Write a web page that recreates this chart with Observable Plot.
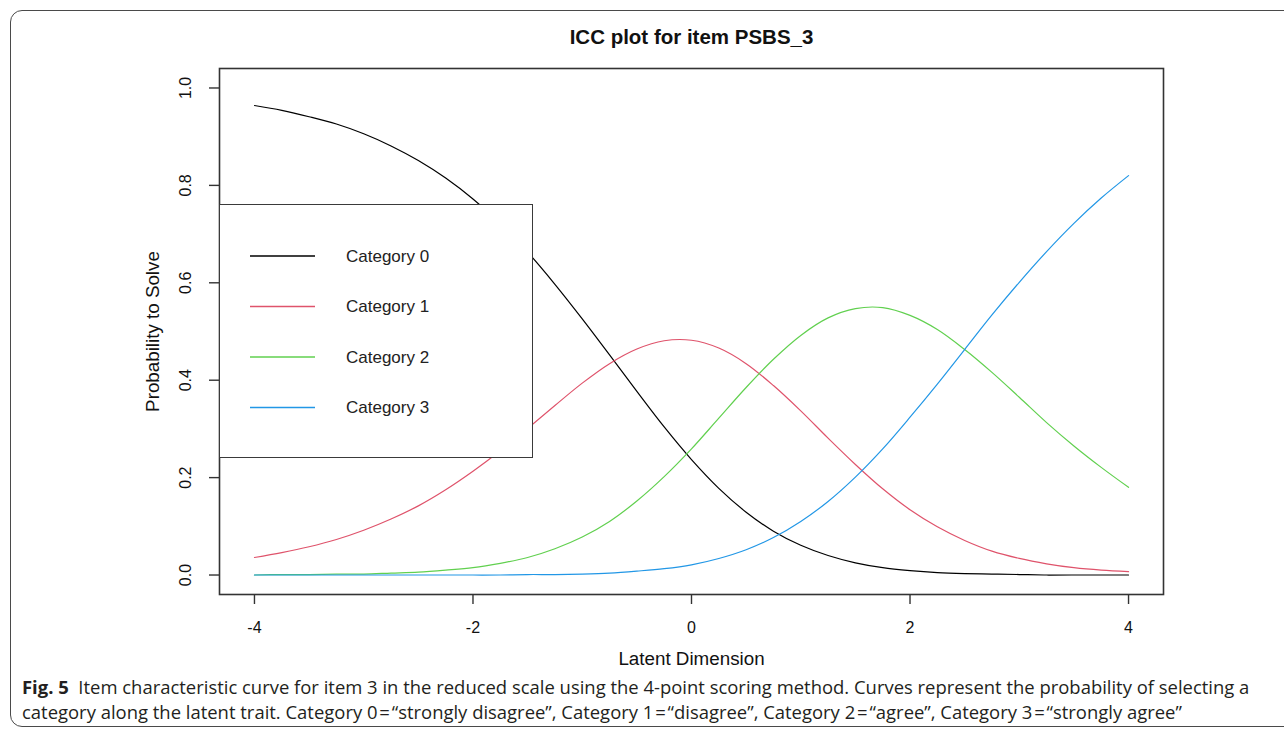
<!DOCTYPE html>
<html>
<head>
<meta charset="utf-8">
<script src="https://cdn.jsdelivr.net/npm/d3@7"></script>
<script src="https://cdn.jsdelivr.net/npm/@observablehq/plot@0.6"></script>
<style>
  html, body { margin: 0; padding: 0; background: #fff; }
  #wrap { position: relative; width: 1284px; height: 730px; overflow: hidden; background: #fff; }
  #chart { position: absolute; left: 0; top: 0; }
  #border { position: absolute; left: 10px; top: 10px; width: 1320px; height: 717px; border: 1.3px solid #4a4a4a; border-radius: 12px; box-sizing: border-box; background: transparent; pointer-events: none; z-index: 5; }
  #legend { position: absolute; left: 219px; top: 204px; width: 314px; height: 254px; box-sizing: border-box; border: 1.5px solid #3a3a3a; background: #fff; z-index: 2; }
  #legend svg { position: absolute; left: 0; top: 0; }
  #caption { position: absolute; left: 22px; top: 674px; font-family: "Open Sans", "Lato", sans-serif; font-size: 17.4px; line-height: 25px; color: #231f20; white-space: nowrap; z-index: 3; }
  #caption b { font-weight: 700; }
</style>
</head>
<body>
<div id="wrap">
  <div id="chart"></div>
  <div id="legend"></div>
  <div id="caption">
    <div id="cap1"><b>Fig. 5</b>&nbsp; Item characteristic curve for item 3 in the reduced scale using the 4-point scoring method. Curves represent the probability of selecting a</div>
    <div id="cap2">category along the latent trait. Category 0&#8202;=&#8202;“strongly disagree”, Category 1&#8202;=&#8202;“disagree”, Category 2&#8202;=&#8202;“agree”, Category 3&#8202;=&#8202;“strongly agree”</div>
  </div>
  <div id="border"></div>
</div>
<script>
// ---- Data ----
const theta = [-4, -3.75, -3.5, -3.25, -3, -2.75, -2.5, -2.25, -2, -1.75, -1.5, -1.25, -1, -0.75, -0.5, -0.25, 0,
               0.25, 0.5, 0.75, 1, 1.25, 1.5, 1.75, 2, 2.25, 2.5, 2.75, 3, 3.25, 3.5, 3.75, 4];
const cat0 = [0.964, 0.954, 0.941, 0.926, 0.906, 0.881, 0.851, 0.815, 0.772, 0.721, 0.663, 0.597, 0.526, 0.452, 0.377, 0.304, 0.237,
              0.178, 0.129, 0.090, 0.061, 0.040, 0.025, 0.015, 0.009, 0.005, 0.003, 0.002, 0.001, 0.000, 0.000, 0.000, 0.000];
const cat1 = [0.036, 0.046, 0.058, 0.073, 0.092, 0.115, 0.142, 0.175, 0.213, 0.255, 0.301, 0.348, 0.394, 0.434, 0.464, 0.481, 0.482,
              0.466, 0.434, 0.389, 0.337, 0.281, 0.227, 0.177, 0.134, 0.099, 0.071, 0.049, 0.034, 0.023, 0.015, 0.010, 0.007];
const cat2 = [0.000, 0.001, 0.001, 0.002, 0.002, 0.004, 0.006, 0.010, 0.015, 0.024, 0.036, 0.054, 0.078, 0.110, 0.152, 0.202, 0.259,
              0.322, 0.385, 0.443, 0.492, 0.528, 0.547, 0.549, 0.533, 0.504, 0.463, 0.416, 0.365, 0.313, 0.265, 0.221, 0.180];
const cat3 = [0.000, 0.000, 0.000, 0.000, 0.000, 0.000, 0.000, 0.000, 0.000, 0.000, 0.001, 0.001, 0.002, 0.004, 0.008, 0.013, 0.021,
              0.034, 0.052, 0.077, 0.110, 0.151, 0.201, 0.259, 0.324, 0.392, 0.463, 0.534, 0.601, 0.664, 0.722, 0.774, 0.820];
const categories = ["Category 0", "Category 1", "Category 2", "Category 3"];
const colors = ["#000000", "#DF536B", "#61D04F", "#2297E6"];
const xTicks = [-4, -2, 0, 2, 4];
const yTicks = [0, 0.2, 0.4, 0.6, 0.8, 1.0];
const title = "ICC plot for item PSBS_3";
const xLabel = "Latent Dimension";
const yLabel = "Probability to Solve";

// ---- Build long table ----
const series = [cat0, cat1, cat2, cat3];
const rows = [];
series.forEach((vals, i) => vals.forEach((v, j) => rows.push({theta: theta[j], p: v, cat: categories[i]})));

const W = 1284, H = 680;
const fontR = "Liberation Sans, Arial, sans-serif";

const plot = Plot.plot({
  width: W,
  height: H,
  marginLeft: 219,
  marginRight: W - 1163,
  marginTop: 68,
  marginBottom: H - 594,
  style: {background: "transparent", color: "#333", fontFamily: fontR, overflow: "visible"},
  x: {domain: [-4.32, 4.32], axis: null},
  y: {domain: [-0.04, 1.04], axis: null},
  color: {domain: categories, range: colors},
  marks: [
    Plot.lineY(rows, {x: "theta", y: "p", stroke: "cat", z: "cat", curve: "catmull-rom", strokeWidth: 1.2}),
    Plot.frame({stroke: "#333", strokeWidth: 1.6}),
    Plot.axisX(xTicks, {tickSize: 10, fill: "none", label: null, stroke: "#333", strokeWidth: 1.4}),
    Plot.axisY(yTicks, {tickSize: 10, fill: "none", label: null, stroke: "#333", strokeWidth: 1.4}),
    Plot.text(xTicks, {x: d => d, text: d => String(d), frameAnchor: "bottom", lineAnchor: "middle", textAnchor: "middle", dy: 33, fontSize: 16, fill: "#111"}),
    Plot.text(yTicks, {y: d => d, text: d => d3.format(".1f")(d), frameAnchor: "left", lineAnchor: "middle", textAnchor: "middle", dx: -34, rotate: -90, fontSize: 16, fill: "#111"}),
    Plot.text([xLabel], {text: d => d, frameAnchor: "bottom", lineAnchor: "middle", textAnchor: "middle", dy: 64, fontSize: 18.8, fill: "#111"}),
    Plot.text([yLabel], {text: d => d, frameAnchor: "left", lineAnchor: "middle", textAnchor: "middle", dx: -67, rotate: -90, fontSize: 18.8, fill: "#111"}),
    Plot.text([title], {text: d => d, frameAnchor: "top", lineAnchor: "middle", textAnchor: "middle", dy: -31, fontSize: 20.5, fontWeight: "bold", fill: "#111"})
  ]
});
document.getElementById("chart").appendChild(plot);

// ---- Legend (boxed, white background, as in R's legend()) ----
const legend = d3.select("#legend");
const lsvg = legend.append("svg").attr("width", 312).attr("height", 252);
const rowY = [51, 101.5, 152, 202.5];
categories.forEach((c, i) => {
  lsvg.append("line")
    .attr("x1", 30).attr("x2", 95)
    .attr("y1", rowY[i]).attr("y2", rowY[i])
    .attr("stroke", colors[i]).attr("stroke-width", 1.3);
  lsvg.append("text")
    .attr("x", 126).attr("y", rowY[i])
    .attr("dy", "0.35em")
    .attr("font-family", fontR).attr("font-size", 17)
    .attr("fill", "#222")
    .text(c);
});

// ---- Fit caption lines to the reference width ----
const target1 = 1228;
const cap1 = document.getElementById("cap1");
const w1 = cap1.getBoundingClientRect().width;
if (w1 > 0) {
  const fs = 17.4 * target1 / w1;
  document.getElementById("caption").style.fontSize = fs.toFixed(2) + "px";
}
</script>
</body>
</html>
